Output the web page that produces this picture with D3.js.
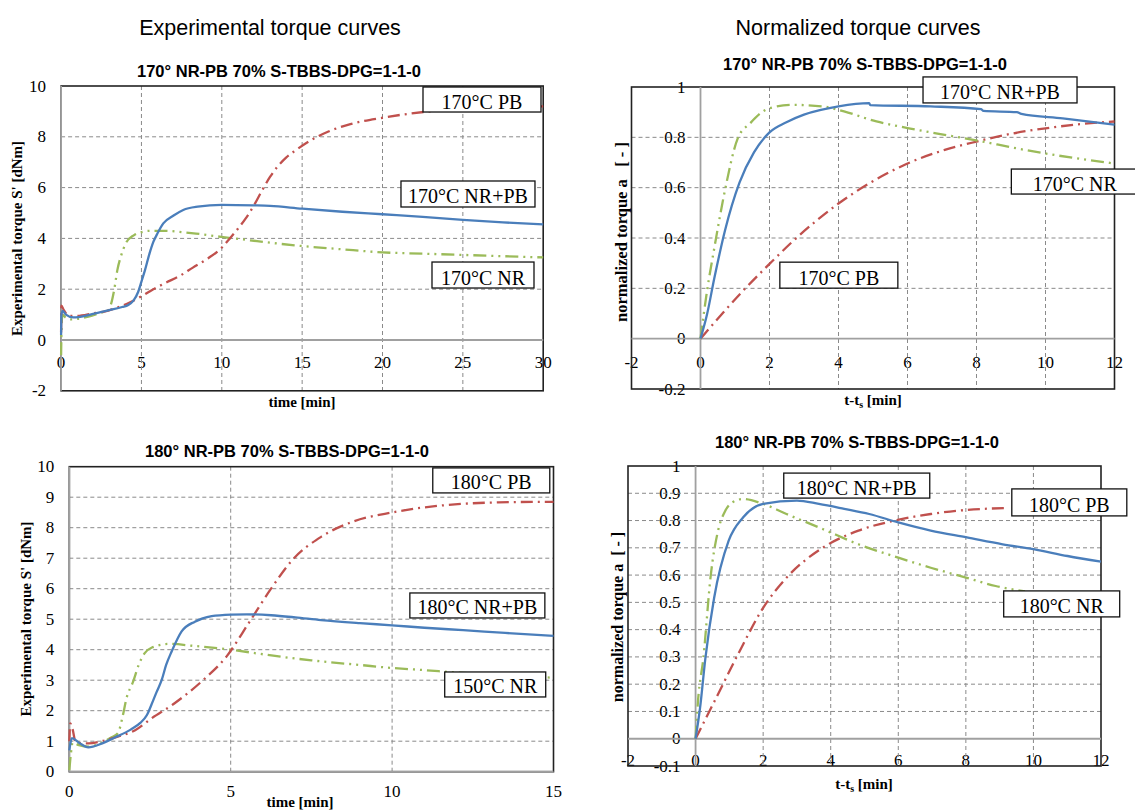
<!DOCTYPE html>
<html><head><meta charset="utf-8">
<script src="https://cdn.jsdelivr.net/npm/d3@7"></script>
<style>body{margin:0;background:#fff}</style>
</head><body><svg id="c" width="1135" height="810"></svg>
<script>
// ---------- DATA ----------
// Experimental torque, 170 °C  [time (min), S' (dNm)]
const exp170_NRPB = [[0,0.2],[0.02,1.0],[0.1,1.15],[0.3,1.0],[0.76,0.89],[1.5,0.95],[2,1.03],[3,1.18],[3.8,1.3],[4.18,1.38],[4.5,1.55],[4.8,1.9],[5.0,2.3],[5.22,2.75],[5.5,3.4],[5.74,3.86],[6.0,4.2],[6.36,4.59],[7,4.9],[7.6,5.12],[8.5,5.25],[10,5.32],[12,5.3],[13,5.28],[15,5.17],[17.5,5.05],[20,4.95],[22.5,4.85],[25,4.73],[27.5,4.63],[30,4.55]];
const exp170_PB = [[0,0.3],[0.02,1.35],[0.15,1.2],[0.5,0.95],[1,0.95],[2,1.05],[2.69,1.12],[3.5,1.28],[4.07,1.42],[5,1.72],[5.74,2.0],[6.5,2.25],[7.4,2.53],[8.2,2.85],[9.06,3.18],[10,3.64],[10.5,4.0],[11,4.38],[11.5,4.8],[12,5.3],[12.5,5.88],[13,6.42],[13.5,6.85],[14,7.18],[14.6,7.47],[15.5,7.85],[16.6,8.2],[18,8.5],[20,8.75],[22.6,8.98],[25,9.1],[30,9.2]];
const exp170_NR = [[0,-0.6],[0.03,0.5],[0.08,1.0],[0.25,0.9],[0.6,0.81],[1.2,0.85],[1.7,0.92],[2.5,1.08],[2.96,1.18],[3.1,1.4],[3.3,1.96],[3.5,2.75],[3.75,3.35],[4.02,3.8],[4.54,4.13],[5.0,4.25],[5.58,4.3],[6.52,4.3],[7.5,4.25],[8.4,4.19],[9.96,4.06],[11.7,3.93],[13,3.83],[15,3.7],[17.5,3.57],[20,3.45],[22.5,3.4],[25,3.35],[27.5,3.3],[30,3.25]];

// Normalized torque, 170 °C  [t - ts (min), a (-)]
const norm170_NRPB = [[0,0],[0.19,0.097],[0.4,0.24],[0.71,0.43],[1.13,0.62],[1.55,0.74],[2,0.82],[2.49,0.86],[3,0.89],[4,0.923],[4.89,0.936],[4.92,0.928],[6.67,0.923],[8.13,0.912],[8.2,0.905],[9.17,0.9],[9.3,0.893],[10.5,0.875],[12,0.85]];
const norm170_NR = [[0,0],[0.19,0.19],[0.4,0.36],[0.71,0.59],[1.08,0.796],[1.44,0.856],[2,0.916],[2.7,0.929],[3.53,0.923],[4.16,0.903],[5.1,0.863],[6.04,0.836],[7.08,0.81],[8.03,0.787],[9.17,0.756],[10.3,0.729],[12,0.696]];
const norm170_PB = [[0,0],[1.23,0.19],[2,0.297],[2.7,0.39],[4,0.537],[4.89,0.617],[6,0.696],[7.08,0.75],[8,0.783],[9.07,0.816],[10,0.836],[11.05,0.853],[12,0.863]];

// Experimental torque, 180 °C
const exp180_NRPB = [[0,0.7],[0.03,0.9],[0.08,1.1],[0.3,0.95],[0.59,0.8],[1.0,0.92],[1.41,1.12],[1.9,1.38],[2.2,1.6],[2.4,1.85],[2.55,2.21],[2.7,2.6],[2.86,3.0],[3.0,3.5],[3.17,3.94],[3.48,4.6],[3.89,4.92],[4.41,5.1],[5.02,5.15],[5.5,5.16],[6.25,5.13],[7,5.06],[7.8,4.97],[9,4.87],[10,4.8],[11,4.72],[12.2,4.64],[13.5,4.55],[15,4.45]];
const exp180_NR = [[0,0.05],[0.05,0.6],[0.1,0.95],[0.3,0.87],[0.6,0.82],[1.0,0.95],[1.3,1.12],[1.51,1.27],[1.65,1.8],[1.77,2.4],[1.98,2.96],[2.15,3.5],[2.33,3.88],[2.56,4.07],[3.08,4.19],[3.9,4.12],[5,4.0],[6,3.85],[7.5,3.65],[9,3.5],[10,3.4],[11,3.33],[12,3.25],[13.5,3.17],[15,3.08]];
const exp180_PB = [[0,1.0],[0.03,1.58],[0.1,1.4],[0.2,0.95],[0.6,0.93],[1.0,1.0],[1.5,1.15],[2.04,1.36],[2.55,1.75],[3.23,2.22],[4.11,2.97],[4.88,3.79],[5.55,4.86],[6.25,6.0],[6.91,6.94],[7.8,7.7],[8.79,8.2],[10,8.5],[11.65,8.74],[13.3,8.83],[15,8.85]];

// Normalized torque, 180 °C
const norm180_NRPB = [[0,0],[0.13,0.11],[0.29,0.295],[0.55,0.517],[0.98,0.726],[1.41,0.812],[2,0.861],[3,0.873],[3.65,0.861],[4.4,0.843],[5.14,0.824],[6,0.793],[6.96,0.763],[8.03,0.738],[9.09,0.713],[10,0.695],[11.01,0.67],[12,0.649]];
const norm180_NR = [[0,0],[0.07,0.135],[0.23,0.295],[0.45,0.6],[0.66,0.76],[0.88,0.836],[1.09,0.867],[1.41,0.879],[2,0.861],[2.69,0.824],[3.76,0.769],[4.82,0.713],[6,0.664],[6.96,0.627],[8.03,0.59],[8.88,0.56],[9.75,0.54]];
const norm180_PB = [[0,0],[0.55,0.135],[1.3,0.32],[2,0.48],[2.69,0.59],[3.76,0.70],[4.82,0.763],[5.89,0.8],[6.96,0.824],[8.03,0.839],[9.2,0.846]];

// Tick values
const ticksExp170X = [0,5,10,15,20,25,30];
const ticksExp170Y = [-2,0,2,4,6,8,10];
const ticksNorm170X = [-2,0,2,4,6,8,10,12];
const ticksNorm170Y = [-0.2,0,0.2,0.4,0.6,0.8,1];
const ticksExp180X = [0,5,10,15];
const ticksExp180Y = [0,1,2,3,4,5,6,7,8,9,10];
const ticksNorm180X = [-2,0,2,4,6,8,10,12];
const ticksNorm180Y = [-0.1,0,0.1,0.2,0.3,0.4,0.5,0.6,0.7,0.8,0.9,1];

// Text
const mainTitles = ["Experimental torque curves","Normalized torque curves"];
const subTitle170 = "170° NR-PB 70% S-TBBS-DPG=1-1-0";
const subTitle180 = "180° NR-PB 70% S-TBBS-DPG=1-1-0";

// ---------- STYLE ----------
const COL = {NRPB:"#4A7EBB", PB:"#C0504D", NR:"#9BBB59"};
const DASH = {NRPB:null, PB:"12,5,2,5", NR:"13,5,2,5,2,5"};

const svg = d3.select("#c");
svg.append("rect").attr("width",1135).attr("height",810).attr("fill","#fff");

const panels = [
  {px:[61.1,543.2], py:[390.8,86], xd:[0,30], yd:[-2,10], xt:ticksExp170X, yt:ticksExp170Y, norm:false, xlabDy:22.5,
   title:subTitle170, tXY:[279,71], ylab:"Experimental torque S' [dNm]", yfs:15, yXY:[17,238.5], xlab:"time [min]", xXY:[302,402],
   series:[["NR",exp170_NR],["PB",exp170_PB],["NRPB",exp170_NRPB]],
   boxes:[["170°C PB",22.52,9.96,118,25],["170°C NR+PB",21.15,6.26,134,26],["170°C NR",23.08,3.07,102,26]]},
  {px:[631.5,1114.5], py:[389,87], xd:[-2,12], yd:[-0.2,1], xt:ticksNorm170X, yt:ticksNorm170Y, norm:true, xlabDy:24,
   title:subTitle170, tXY:[865,63.5], ylab:"normalized torque a   [ - ]", yfs:16.5, yXY:[621,232], xlab:"t-t", xXY:[873,400],
   series:[["PB",norm170_PB],["NR",norm170_NR],["NRPB",norm170_NRPB]],
   boxes:[["170°C NR+PB",6.45,1.04,154,26],["170°C NR",9.01,0.674,127,25],["170°C PB",2.30,0.304,118,26]]},
  {px:[69.3,553.5], py:[771.7,466.7], xd:[0,15], yd:[0,10], xt:ticksExp180X, yt:ticksExp180Y, norm:false, xlabDy:20,
   title:subTitle180, tXY:[287,451], ylab:"Experimental torque S' [dNm]", yfs:15, yXY:[25.5,619], xlab:"time [min]", xXY:[300,802],
   series:[["NR",exp180_NR],["PB",exp180_PB],["NRPB",exp180_NRPB]],
   boxes:[["180°C PB",11.26,9.96,117,25],["180°C NR+PB",10.55,5.86,135,25],["150°C NR",11.63,3.27,101,25]]},
  {px:[628,1101], py:[766,466], xd:[-2,12], yd:[-0.1,1], xt:ticksNorm180X, yt:ticksNorm180Y, norm:true, xlabDy:22,
   title:subTitle180, tXY:[857,441.5], ylab:"normalized torque a  [ - ]", yfs:16, yXY:[617,617], xlab:"t-t", xXY:[864,784],
   series:[["PB",norm180_PB],["NR",norm180_NR],["NRPB",norm180_NRPB]],
   boxes:[["180°C NR+PB",2.61,0.974,146,25],["180°C PB",9.36,0.916,115,27],["180°C NR",9.12,0.542,116,26]]}
];

const fmt = v => String(+v.toFixed(1));

// main titles
mainTitles.forEach((t,i) => {
  svg.append("text").attr("x",i===0?270:858).attr("y",28).attr("text-anchor","middle").attr("dominant-baseline","central")
    .attr("font-family","Liberation Sans, Arial, sans-serif").attr("font-size",21.5).attr("fill","#000").text(t);
});

panels.forEach(p => {
  const g = svg.append("g");
  const xs = d3.scaleLinear().domain(p.xd).range(p.px);
  const ys = d3.scaleLinear().domain(p.yd).range(p.py);
  const L=p.px[0], R=p.px[1], T=p.py[1], B=p.py[0];

  // subtitle
  g.append("text").attr("x",p.tXY[0]).attr("y",p.tXY[1]).attr("text-anchor","middle").attr("dominant-baseline","central")
    .attr("font-family","Liberation Sans, Arial, sans-serif").attr("font-weight","bold").attr("font-size",16.5).text(p.title);

  // tick labels
  const yLabX = p.norm ? xs(0)-15 : L-15;
  g.selectAll(".yt").data(p.yt).enter().append("text")
    .attr("x",yLabX).attr("y",d=>ys(d)).attr("text-anchor","end").attr("dominant-baseline","central")
    .attr("font-family","Liberation Serif, Times New Roman, serif").attr("font-size",17).text(fmt);
  g.selectAll(".xt").data(p.xt).enter().append("text")
    .attr("x",d=>xs(d)).attr("y",ys(0)+p.xlabDy).attr("text-anchor","middle").attr("dominant-baseline","central")
    .attr("font-family","Liberation Serif, Times New Roman, serif").attr("font-size",17).text(fmt);

  // dashed grid
  const gx = p.xt.filter(v=>v!==0 && v!==p.xd[0] && v!==p.xd[1]);
  const gy = p.yt.filter(v=>v!==0 && v!==p.yd[0] && v!==p.yd[1]);
  g.selectAll(".gx").data(gx).enter().append("line")
    .attr("x1",d=>xs(d)).attr("x2",d=>xs(d)).attr("y1",T).attr("y2",B)
    .attr("stroke","#8a8a8a").attr("stroke-width",1).attr("stroke-dasharray","4,3");
  g.selectAll(".gy").data(gy).enter().append("line")
    .attr("y1",d=>ys(d)).attr("y2",d=>ys(d)).attr("x1",L).attr("x2",R)
    .attr("stroke","#8a8a8a").attr("stroke-width",1).attr("stroke-dasharray","4,3");

  // frame
  g.append("rect").attr("x",L).attr("y",T).attr("width",R-L).attr("height",B-T)
    .attr("fill","none").attr("stroke","#222").attr("stroke-width",1.6);
  // zero axes
  g.append("line").attr("x1",L).attr("x2",R).attr("y1",ys(0)).attr("y2",ys(0)).attr("stroke","#a0a0a0").attr("stroke-width",1.8);
  g.append("line").attr("x1",xs(0)).attr("x2",xs(0)).attr("y1",T).attr("y2",B).attr("stroke","#a0a0a0").attr("stroke-width",1.8);

  // curves
  const line = d3.line().x(d=>xs(d[0])).y(d=>ys(d[1])).curve(d3.curveMonotoneX);
  p.series.forEach(([k,data]) => {
    const path = g.append("path").datum(data).attr("d",line).attr("fill","none")
      .attr("stroke",COL[k]).attr("stroke-width",2.3).attr("stroke-linejoin","round");
    if (DASH[k]) path.attr("stroke-dasharray",DASH[k]);
  });

  // label boxes
  p.boxes.forEach(([txt,bx,by,w,h]) => {
    const x0 = xs(bx), y0 = ys(by);
    g.append("rect").attr("x",x0).attr("y",y0).attr("width",w).attr("height",h)
      .attr("fill","#fff").attr("stroke","#111").attr("stroke-width",1.3);
    g.append("text").attr("x",x0+w/2).attr("y",y0+h-3.5).attr("text-anchor","middle")
      .attr("font-family","Liberation Serif, Times New Roman, serif").attr("font-size",20).text(txt);
  });

  // axis titles
  g.append("text").attr("transform",`translate(${p.yXY[0]},${p.yXY[1]}) rotate(-90)`)
    .attr("text-anchor","middle").attr("dominant-baseline","central").attr("xml:space","preserve")
    .style("white-space","pre")
    .attr("font-family","Liberation Serif, Times New Roman, serif").attr("font-weight","bold").attr("font-size",p.yfs).text(p.ylab);
  const xt = g.append("text").attr("x",p.xXY[0]).attr("y",p.xXY[1]).attr("text-anchor","middle").attr("dominant-baseline","central")
    .attr("font-family","Liberation Serif, Times New Roman, serif").attr("font-weight","bold").attr("font-size",15);
  if (p.norm) {
    xt.append("tspan").text("t-t");
    xt.append("tspan").attr("dy",4).attr("font-size",10).text("s");
    xt.append("tspan").attr("dy",-4).text(" [min]");
  } else xt.text(p.xlab);
});
</script></body></html>
